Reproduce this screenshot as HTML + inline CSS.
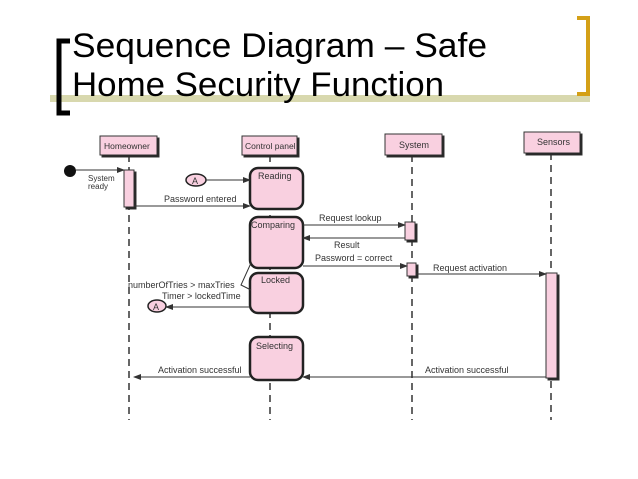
<!DOCTYPE html>
<html><head><meta charset="utf-8"><style>
html,body{margin:0;padding:0;background:#fff;width:638px;height:479px;overflow:hidden}
</style></head><body>
<svg width="638" height="479" viewBox="0 0 638 479" xmlns="http://www.w3.org/2000/svg" font-family="Liberation Sans, sans-serif">
<defs>
<marker id="ar" markerWidth="8" markerHeight="6" refX="7" refY="3" orient="auto"><path d="M0,0 L8,3 L0,6" fill="#333"/></marker>
</defs>
<!-- title decorations -->
<rect x="50" y="95" width="540" height="7" fill="#d8d8ae"/>
<path d="M70,41 H59 V113 H70" fill="none" stroke="#000" stroke-width="5"/>
<path d="M577,18 H588 V94 H577" fill="none" stroke="#d4a017" stroke-width="4"/>
<text x="72" y="57" font-size="34" textLength="415" lengthAdjust="spacingAndGlyphs">Sequence Diagram – Safe</text>
<text x="72" y="96" font-size="34" textLength="372" lengthAdjust="spacingAndGlyphs">Home Security Function</text>

<g font-size="9" fill="#333">
<!-- lifelines -->
<g stroke="#333" stroke-width="1.5" stroke-dasharray="7,5">
<line x1="129" y1="155" x2="129" y2="420"/>
<line x1="270" y1="155" x2="270" y2="420"/>
<line x1="412" y1="155" x2="412" y2="420"/>
<line x1="551" y1="153" x2="551" y2="420"/>
</g>
<!-- header boxes -->
<g stroke="#333" fill="#f9d0e0">
<rect x="102" y="138" width="57" height="19" fill="#222"/><rect x="100" y="136" width="57" height="19"/>
<rect x="244" y="138" width="55" height="19" fill="#222"/><rect x="242" y="136" width="55" height="19"/>
<rect x="387" y="136" width="57" height="21" fill="#222"/><rect x="385" y="134" width="57" height="21"/>
<rect x="526" y="134" width="56" height="21" fill="#222"/><rect x="524" y="132" width="56" height="21"/>
</g>
<text x="104" y="149" font-size="8.5">Homeowner</text>
<text x="245" y="149" font-size="8.5">Control panel</text>
<text x="399" y="148">System</text>
<text x="537" y="145">Sensors</text>

<!-- activations -->
<g stroke="#333" fill="#f9d0e0">
<rect x="126" y="172" width="10" height="37" fill="#222"/><rect x="124" y="170" width="10" height="37"/>
<rect x="407" y="224" width="10" height="18" fill="#222"/><rect x="405" y="222" width="10" height="18"/>
<rect x="409" y="265" width="9" height="13" fill="#222"/><rect x="407" y="263" width="9" height="13"/>
<rect x="548" y="275" width="11" height="105" fill="#222"/><rect x="546" y="273" width="11" height="105"/>
</g>
<!-- states -->
<g stroke="#222" stroke-width="2.5" fill="#f9d0e0">
<rect x="250" y="168" width="53" height="41" rx="8"/>
<rect x="250" y="217" width="53" height="51" rx="8"/>
<rect x="250" y="273" width="53" height="40" rx="8"/>
<rect x="250" y="337" width="53" height="43" rx="8"/>
</g>
<text x="258" y="179">Reading</text>
<text x="251" y="228">Comparing</text>
<text x="261" y="283">Locked</text>
<text x="256" y="349">Selecting</text>

<!-- start -->
<circle cx="70" cy="171" r="6" fill="#111"/>
<line x1="76" y1="170" x2="124" y2="170" stroke="#333" marker-end="url(#ar)"/>
<text x="88" y="181" font-size="8">System</text>
<text x="88" y="189" font-size="8">ready</text>
<!-- A circles -->
<g stroke="#222" stroke-width="1.5" fill="#f9d0e0">
<ellipse cx="196" cy="180" rx="10" ry="6"/>
<ellipse cx="157" cy="306" rx="9" ry="6"/>
</g>
<text x="192" y="184" font-size="9">A</text>
<text x="153" y="310" font-size="9">A</text>
<g stroke="#333" fill="none">
<line x1="206" y1="180" x2="250" y2="180" marker-end="url(#ar)"/>
<line x1="134" y1="206" x2="250" y2="206" marker-end="url(#ar)"/>
<line x1="303" y1="225" x2="405" y2="225" marker-end="url(#ar)"/>
<line x1="405" y1="238" x2="303" y2="238" marker-end="url(#ar)"/>
<line x1="303" y1="266" x2="407" y2="266" marker-end="url(#ar)"/>
<line x1="416" y1="274" x2="546" y2="274" marker-end="url(#ar)"/>
<line x1="546" y1="377" x2="303" y2="377" marker-end="url(#ar)"/>
<line x1="250" y1="377" x2="134" y2="377" marker-end="url(#ar)"/>
<line x1="250" y1="307" x2="166" y2="307" marker-end="url(#ar)"/>
<path d="M251,263 L241,285 L251,290"/>
</g>
<text x="164" y="202">Password entered</text>
<text x="319" y="221">Request lookup</text>
<text x="334" y="248">Result</text>
<text x="315" y="261">Password = correct</text>
<text x="433" y="271">Request activation</text>
<text x="425" y="373">Activation successful</text>
<text x="158" y="373">Activation successful</text>
<text x="128" y="288">numberOfTries &gt; maxTries</text>
<text x="162" y="299">Timer &gt; lockedTime</text>
</g>
</svg>
</body></html>
